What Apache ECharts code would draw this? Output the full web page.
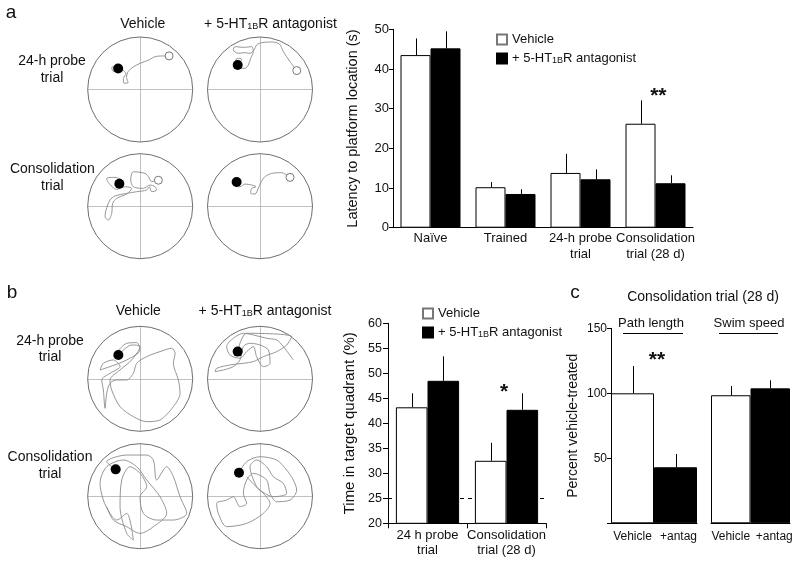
<!DOCTYPE html>
<html><head><meta charset="utf-8">
<script src="https://cdn.jsdelivr.net/npm/echarts@6/dist/echarts.min.js"></script>
<style>html,body{margin:0;padding:0;background:#fff}#c{width:800px;height:565px}</style>
</head><body><div id="c"></div><script>
// ---------- data ----------
const catsA = ['Naïve', 'Trained', '24-h probe\ntrial', 'Consolidation\ntrial (28 d)'];
const vehA = [43.5, 10.2, 13.8, 26.2];
const vehAErr = [47.7, 11.5, 18.6, 32.1];
const antA = [45.2, 8.5, 12.2, 11.2];
const antAErr = [49.5, 9.7, 14.7, 13.2];

const catsB = ['24 h probe\ntrial', 'Consolidation\ntrial (28 d)'];
const vehB = [43.2, 32.5];
const vehBErr = [46.0, 36.1];
const antB = [48.5, 42.7];
const antBErr = [53.4, 46.0];
const chanceB = 25;

const catsC = ['Vehicle', '+antag'];
const pathLen = [100, 43.1];
const pathLenErr = [121, 53.3];
const swimSpeed = [98.5, 103.8];
const swimSpeedErr = [105.6, 110];

// swim paths, in % of pool radius (x right, y up)
const pathA1 = [[50,64],[30,63],[16,56],[0,50],[-13,43],[-23,34],[-26,23],[-23,13],[-31,12],[-32,21],[-27,30],[-33,37],[-45,45],[-54,42],[-52,35],[-44,34],[-42,40]];
const pathA2 = [[66.7,40.3],[57.2,53],[44.5,72.1],[36.8,86.7],[22.2,90.5],[3.2,89.3],[-6.4,84.8],[-11.4,75.2],[-19.1,68.9],[-28.6,70.2],[-41.3,68.9],[-50.8,75.2],[-47.6,81.6],[-31.8,80.3],[-15.9,81.6],[-12.7,72.1],[-17.8,59.4],[-22.2,46.7],[-28.6,40.3],[-39.4,40.3],[-47.6,49.8],[-43.2,59.4],[-34.9,57.5],[-42.5,46.7]];
const pathA3 = [[31.4,49.8],[21.9,46.7],[15.6,56.2],[9.2,62.5],[-13,65.7],[-18.1,49.8],[-13,37.1],[6,34],[18.7,40.3],[28.3,37.1],[31.4,30.8],[21.9,27.6],[17.5,37.1],[12.4,30.8],[-6.7,27.6],[-25.7,24.4],[-47.9,19.4],[-57.5,11.7],[-65.1,-7.3],[-67,-20],[-60.6,-26.4],[-54.3,-13.7],[-52.4,5.4],[-44.8,14.9],[-25.7,23.2],[-16.2,34],[-28.9,37.1],[-44.8,32.1],[-60.6,44.8],[-63.8,53],[-47.9,54.9],[-32.1,46.7],[-39.7,42.9]];
const pathA4 = [[54,56.2],[41.3,63.8],[22.2,62.5],[9.5,56.2],[1.3,44.8],[-3.2,34],[-9.5,23.2],[-17.8,24.4],[-15.9,34],[-7.6,37.1],[-15.9,40.3],[-28.6,42.2],[-38.1,37.1],[-47.6,38.4],[-50.8,46.7],[-44.5,46]];
const pathB1 = [[-51.1,42.2],[-25.7,67.6],[-6.7,68.9],[-0.3,54.9],[-25.7,35.9],[-57.5,23.2],[-76.5,16.8],[-70.2,29.5],[-51.1,35.9],[-38.4,23.2],[-57.5,10.5],[-73.3,-2.2],[-70.2,-21.3],[-67,-56.2],[-63.8,-27.6],[-57.5,-8.6],[-44.8,-2.2],[-25.7,-2.2],[-13,10.5],[-6.7,29.5],[12.4,42.2],[37.8,51.8],[60,58.1],[66.4,48.6],[63.2,29.5],[72.7,-2.2],[75.9,-27.6],[63.2,-53],[37.8,-78.4],[12.4,-81.6],[-13,-72.1],[-38.4,-53],[-54.3,-21.3],[-57.5,-2.2],[-38.4,16.8],[-16.2,35.9],[-0.3,61.3],[-16.2,64.4],[-41.6,45.4]];
const pathB2 = [[63.5,35.9],[44.5,61.3],[31.8,74],[12.7,77.2],[-12.7,83.5],[-31.8,86.7],[-50.8,77.2],[-63.5,61.3],[-57.2,45.4],[-38.1,39.1],[-25.4,51.8],[-12.7,61.3],[-6.4,42.2],[6.4,23.2],[19.1,29.5],[15.9,54.9],[0,64.4],[-19.1,67.6],[-31.8,61.3],[-38.1,35.9],[-50.8,23.2],[-69.9,16.8],[-85.7,13.7],[-82.6,20],[-57.2,26.4],[-31.8,29.5],[-12.7,32.7],[6.4,42.2],[31.8,51.8],[50.8,64.4],[60.3,80.3],[-25.4,86.7],[-42.5,51.8]];
const pathB3 = [[-46.7,51.1],[-63.8,65.7],[-25.7,78.4],[12.4,78.4],[25.1,68.9],[31.4,30.8],[50.5,56.2],[63.2,37.1],[75.9,-1],[88.6,-32.7],[63.2,-45.4],[31.4,-45.4],[6,-32.7],[-0.3,-1],[12.4,18.1],[-0.3,43.5],[-19.4,56.2],[-35.2,30.8],[-38.4,-20],[-25.7,-70.8],[-13,-83.5],[-25.7,-32.7],[-44.8,-45.4],[-57.5,-32.7],[-70.2,-7.3],[-76.5,24.4],[-63.8,56.2],[-32.1,68.9],[-6.7,56.2],[12.4,30.8],[37.8,-1],[50.5,-32.7],[25.1,-58.1],[-0.3,-70.8],[-25.7,-58.1],[-51.1,-45.4],[-63.8,-20]];
const pathB4 = [[-40,44.8],[-25.4,65.7],[0,75.2],[31.8,68.9],[50.8,49.8],[63.5,30.8],[69.9,11.7],[57.2,-7.3],[31.8,-10.5],[19.1,5.4],[12.7,30.8],[-12.7,43.5],[-25.4,30.8],[-31.8,5.4],[-25.4,-13.7],[-38.1,-20],[-50.8,-1],[-63.5,-7.3],[-82.6,-13.7],[-79.4,-32.7],[-63.5,-58.1],[-25.4,-51.8],[6.4,-32.7],[19.1,-13.7],[6.4,5.4],[-6.4,18.1],[-19.1,56.2],[-6.4,68.9],[12.7,56.2],[25.4,37.1],[44.5,24.4],[50.8,5.4],[25.4,-1],[0,11.7],[-25.4,37.1]];
const platformsA = [[-42,40],[-42.5,46.7],[-39.7,42.9],[-44.5,46]];
const startsA = [[55,64],[70,36],[34.6,49.5],[57.2,54.9]];
const platformsB = [[-41.6,45.4],[-42.5,51.8],[-46.7,51.1],[-40,44.8]];

// ---------- layout ----------
const FONT = '"Liberation Sans", Arial, Helvetica, sans-serif';
const INK = '#111';
const poolCenters = [[140.2,89.5],[260,89.5],[140.2,206.2],[260,206.2],[140.2,378.8],[260,378.8],[140.2,496.2],[260,496.2]];
const poolR = 52.5;
const paths = [pathA1, pathA2, pathA3, pathA4, pathB1, pathB2, pathB3, pathB4];
const platforms = platformsA.concat(platformsB);

const grids = [
  {left:393, top:29.3, width:300, height:198.4},
  {left:388, top:323.3, width:158, height:200},
  {left:611, top:328.3, width:86, height:195},
  {left:711, top:328.3, width:79, height:195}
];
const xAxes = [], yAxes = [], series = [];
const black = {color:'#000'};

xAxes.push({gridIndex:0, type:'category', data:catsA, axisLine:{lineStyle:black}, axisTick:{show:false},
  axisLabel:{interval:0, fontSize:13, fontFamily:FONT, color:INK, lineHeight:16, margin:3}});
yAxes.push({gridIndex:0, type:'value', min:0, max:50, interval:10, axisLine:{show:true, lineStyle:black},
  axisTick:{show:true, length:4, lineStyle:black}, splitLine:{show:false},
  axisLabel:{fontSize:13, fontFamily:FONT, color:INK, margin:4},
  name:'Latency to platform location (s)', nameLocation:'middle', nameGap:33,
  nameTextStyle:{fontSize:14.5, fontFamily:FONT, color:INK}});

xAxes.push({gridIndex:1, type:'category', data:catsB, axisLine:{lineStyle:black}, axisTick:{show:true, length:5, lineStyle:black},
  axisLabel:{interval:0, fontSize:13, fontFamily:FONT, color:INK, lineHeight:15, margin:5}});
yAxes.push({gridIndex:1, type:'value', min:20, max:60, interval:5, axisLine:{show:true, lineStyle:black},
  axisTick:{show:true, length:5, lineStyle:black}, splitLine:{show:false},
  axisLabel:{fontSize:12.5, fontFamily:FONT, color:INK, margin:6},
  name:'Time in target quadrant (%)', nameLocation:'middle', nameGap:31,
  nameTextStyle:{fontSize:15, fontFamily:FONT, color:INK}});

const cLabel = {interval:0, fontSize:12, fontFamily:FONT, color:INK, margin:7,
  formatter: v => v === '+antag' ? '{r|' + v + '}' : v,
  rich:{r:{fontSize:12, fontFamily:FONT, color:INK, padding:[0,0,0,6]}}};
xAxes.push({gridIndex:2, type:'category', data:catsC, axisLine:{lineStyle:black}, axisTick:{show:false}, axisLabel:cLabel});
yAxes.push({gridIndex:2, type:'value', min:0, max:150, interval:50, axisLine:{show:true, lineStyle:black},
  axisTick:{show:true, length:4, lineStyle:black}, splitLine:{show:false},
  axisLabel:{fontSize:12, fontFamily:FONT, color:INK, margin:4, formatter:v => v === 0 ? '' : String(v)},
  name:'Percent vehicle-treated', nameLocation:'middle', nameGap:31,
  nameTextStyle:{fontSize:14, fontFamily:FONT, color:INK}});

xAxes.push({gridIndex:3, type:'category', data:catsC, axisLine:{lineStyle:black}, axisTick:{show:false},
  axisLabel:Object.assign({}, cLabel, {rich:{r:{fontSize:12, fontFamily:FONT, color:INK, padding:[0,0,0,8]}}})});
yAxes.push({gridIndex:3, type:'value', min:0, max:150, interval:50, show:false});

const whiteBar = {color:'#fff', borderColor:'#000', borderWidth:1};
const blackBar = {color:'#000', borderColor:'#000', borderWidth:1};

function errSeries(ai, vals, tops, offset) {
  return {type:'custom', xAxisIndex:ai, yAxisIndex:ai, z:6, silent:true,
    data: vals.map((v, i) => [i, v, tops[i]]), encode:{x:0, y:[1,2]},
    renderItem(params, api) {
      const i = api.value(0);
      const p0 = api.coord([i, api.value(1)]);
      const p1 = api.coord([i, api.value(2)]);
      const band = api.size([1, 0])[0];
      const x = Math.round(p0[0] + offset * band) + 0.5;
      return {type:'line', shape:{x1:x, y1:p0[1], x2:x, y2:p1[1]}, style:{stroke:'#000', lineWidth:1}};
    }};
}

series.push({type:'bar', name:'Vehicle', xAxisIndex:0, yAxisIndex:0, data:vehA, barWidth:'40%', barGap:'0%', itemStyle:whiteBar});
series.push({type:'bar', name:'antag', xAxisIndex:0, yAxisIndex:0, data:antA, barWidth:'40%', barGap:'0%', itemStyle:blackBar});
series.push(errSeries(0, vehA, vehAErr, -0.2));
series.push(errSeries(0, antA, antAErr, 0.2));

series.push({type:'line', xAxisIndex:1, yAxisIndex:1, data:[], z:1, silent:true,
  markLine:{z:1, silent:true, symbol:'none', label:{show:false}, lineStyle:{color:'#000', width:1, type:[4,4]},
    data:[{yAxis:chanceB}]}});
series.push({type:'bar', name:'Vehicle', xAxisIndex:1, yAxisIndex:1, data:vehB, barWidth:'40%', barGap:'0%', itemStyle:whiteBar, z:3});
series.push({type:'bar', name:'antag', xAxisIndex:1, yAxisIndex:1, data:antB, barWidth:'40%', barGap:'0%', itemStyle:blackBar, z:3});
series.push(errSeries(1, vehB, vehBErr, -0.2));
series.push(errSeries(1, antB, antBErr, 0.2));

const colorByIndex = {color: p => p.dataIndex ? '#000' : '#fff', borderColor:'#000', borderWidth:1};
series.push({type:'bar', xAxisIndex:2, yAxisIndex:2, data:pathLen, barWidth:'100%', itemStyle:colorByIndex});
series.push(errSeries(2, pathLen, pathLenErr, 0));
series.push({type:'bar', xAxisIndex:3, yAxisIndex:3, data:swimSpeed, barWidth:'100%', itemStyle:colorByIndex});
series.push(errSeries(3, swimSpeed, swimSpeedErr, 0));

// pools
poolCenters.forEach((c, k) => {
  const gi = grids.length;
  grids.push({left:c[0] - poolR, top:c[1] - poolR, width:poolR * 2, height:poolR * 2});
  xAxes.push({gridIndex:gi, type:'value', min:-100, max:100, show:false});
  yAxes.push({gridIndex:gi, type:'value', min:-100, max:100, show:false});
  series.push({type:'scatter', xAxisIndex:gi, yAxisIndex:gi, data:[[0,0]], symbolSize:poolR * 2, silent:true, z:1,
    itemStyle:{color:'rgba(0,0,0,0)', borderColor:'#6e6e6e', borderWidth:1, opacity:1}});
  series.push({type:'line', xAxisIndex:gi, yAxisIndex:gi, data:paths[k], symbol:'none', smooth:0.3, silent:true, z:2,
    lineStyle:{color:'#8a8a8a', width:0.9},
    markLine:{z:1, silent:true, symbol:'none', label:{show:false}, lineStyle:{color:'#b0b0b0', width:0.8, type:'solid'},
      data:[{xAxis:0}, {yAxis:0}]}});
  if (k < 4) {
    series.push({type:'scatter', xAxisIndex:gi, yAxisIndex:gi, data:[startsA[k]], symbolSize:8, silent:true, z:3,
      itemStyle:{color:'#fff', borderColor:'#777', borderWidth:1, opacity:1}});
  }
  series.push({type:'scatter', xAxisIndex:gi, yAxisIndex:gi, data:[platforms[k]], symbolSize:10, silent:true, z:4,
    itemStyle:{color:'#000', opacity:1}});
});

// ---------- texts ----------
const subRich = {sub:{fontSize:9, fontFamily:FONT, color:INK, verticalAlign:'bottom', padding:[5,0,0,0]}};
function txt(x, y, text, size, opts) {
  return Object.assign({type:'text', x:x, y:y, silent:true,
    style:Object.assign({text:text, fontSize:size, fontFamily:FONT, fill:INK, align:'center', verticalAlign:'middle', rich:subRich}, opts || {})});
}
const graphic = [
  txt(11, 13, 'a', 19),
  txt(142.7, 24, 'Vehicle', 14),
  txt(270.5, 24, '+ 5-HT{sub|1B}R antagonist', 14),
  txt(52, 61, '24-h probe', 14), txt(52, 77.7, 'trial', 14),
  txt(52.3, 169.3, 'Consolidation', 14), txt(52.3, 186, 'trial', 14),
  txt(12, 292.7, 'b', 19),
  txt(138.3, 310.7, 'Vehicle', 14),
  txt(265, 310.7, '+ 5-HT{sub|1B}R antagonist', 14),
  txt(50, 340.7, '24-h probe', 14), txt(50, 357.3, 'trial', 14),
  txt(50, 457.3, 'Consolidation', 14), txt(50, 474, 'trial', 14),
  txt(575, 292.7, 'c', 19),
  txt(703, 297, 'Consolidation trial (28 d)', 14),
  txt(651, 323.3, 'Path length', 13),
  txt(749, 323.3, 'Swim speed', 13),
  {type:'line', silent:true, shape:{x1:623, y1:333.5, x2:683, y2:333.5}, style:{stroke:'#000', lineWidth:1}},
  {type:'line', silent:true, shape:{x1:719, y1:333.5, x2:778, y2:333.5}, style:{stroke:'#000', lineWidth:1}},
  txt(658.3, 96, '**', 21, {fontWeight:'bold'}),
  txt(504, 392, '*', 21, {fontWeight:'bold'}),
  txt(657, 360.5, '**', 21, {fontWeight:'bold'})
];

const legendBase = {orient:'vertical', itemWidth:10, itemHeight:10, itemGap:6, icon:'rect', selectedMode:false,
  data:[{name:'Vehicle', itemStyle:{borderColor:'#777'}}, {name:'antag'}],
  formatter: n => n === 'antag' ? '+ 5-HT{sub|1B}R antagonist' : n,
  textStyle:{fontSize:13, fontFamily:FONT, color:INK, rich:subRich}};

const chart = echarts.init(document.getElementById('c'), null, {renderer:'canvas'});
chart.setOption({
  animation:false,
  backgroundColor:'#fff',
  grid:grids, xAxis:xAxes, yAxis:yAxes, series:series,
  legend:[Object.assign({left:491, top:28}, legendBase), Object.assign({left:417, top:302}, legendBase)],
  graphic:graphic
});
</script></body></html>
